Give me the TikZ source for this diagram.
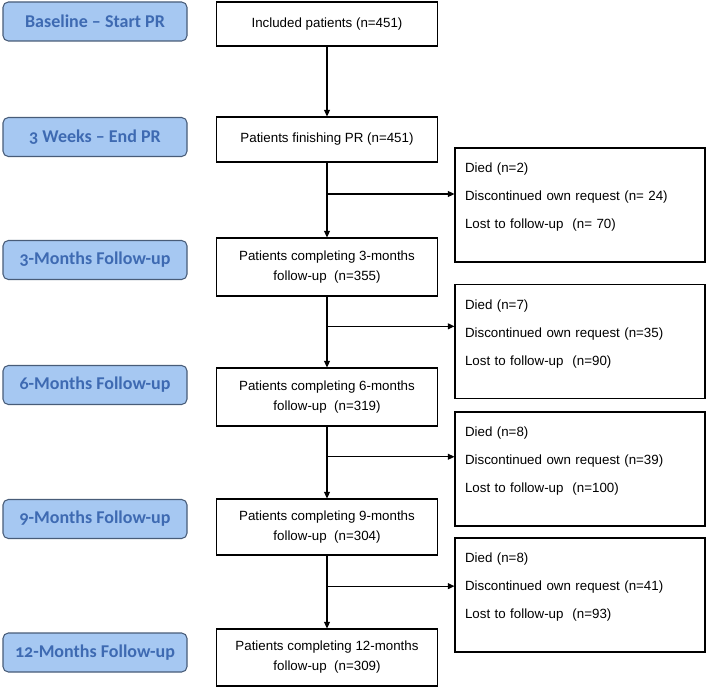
\documentclass[tikz,border=0pt]{standalone}
\usepackage{fontspec}
\setmainfont{Liberation Sans}
\newfontfamily\phasefont{Carlito}[Numbers=OldStyle]
\usetikzlibrary{arrows.meta,calc}
\definecolor{phasefill}{RGB}{166,200,242}
\definecolor{phaseline}{RGB}{72,92,120}
\definecolor{phasetext}{RGB}{62,106,178}
\begin{document}
\begin{tikzpicture}[x=0.75pt, y=-0.75pt, thick, >={Triangle[length=5pt,width=4.5pt]},
    main/.style = {draw, minimum width=165.75pt, align=center, font=\fontsize{10}{15}\selectfont},
    phase/.style = {draw=phaseline, fill=phasefill, rounded corners=4pt, minimum width=138pt, minimum height=29.25pt, text=phasetext, font=\phasefont\bfseries\fontsize{13.5}{16}\selectfont},
    side/.style = {draw, minimum width=187.5pt, minimum height=85.5pt, inner xsep=7.5pt, text width=172.5pt, align=left, font=\fontsize{10}{21}\selectfont}]
    \useasboundingbox (0,0) rectangle (709,688);
    % time points
    \node[phase] (p1) at (95,21.5) {Baseline – Start PR};
    \node[phase] (p2) at (95,137) {3 Weeks – End PR};
    \node[phase] (p3) at (95,260) {3-Months Follow-up};
    \node[phase] (p4) at (95,385) {6-Months Follow-up};
    \node[phase] (p5) at (95,519) {9-Months Follow-up};
    \node[phase] (p6) at (95,652.5) {12-Months Follow-up};
    % patients
    \node[main, minimum height=33pt] (1) at (327,24) {Included patients (n=451)};
    \node[main, minimum height=33.75pt] (2) at (327,139.5) {Patients finishing PR (n=451)};
    \node[main, minimum height=43.5pt] (3) at (327,267) {Patients completing 3-months\\follow-up~ (n=355)};
    \node[main, minimum height=43.5pt] (4) at (327,397) {Patients completing 6-months\\follow-up~ (n=319)};
    \node[main, minimum height=42pt] (5) at (327,527) {Patients completing 9-months\\follow-up~ (n=304)};
    \node[main, minimum height=42.75pt] (6) at (327,657.5) {Patients completing 12-months\\follow-up~ (n=309)};
    % drop outs
    \node[side] (r1) at (580,205) {Died (n=2)\\Discontinued own request (n= 24)\\Lost to follow-up~ (n= 70)\\[-7.5pt]\mbox{}};
    \node[side] (r2) at (580,341.5) {Died (n=7)\\Discontinued own request (n=35)\\Lost to follow-up~ (n=90)\\[-7.5pt]\mbox{}};
    \node[side] (r3) at (580,469) {Died (n=8)\\Discontinued own request (n=39)\\Lost to follow-up~ (n=100)\\[-7.5pt]\mbox{}};
    \node[side] (r4) at (580,595) {Died (n=8)\\Discontinued own request (n=41)\\Lost to follow-up~ (n=93)\\[-7.5pt]\mbox{}};
    \coordinate (b1) at ($(2.south)!0.42!(3.north)$);
    \coordinate (b2) at ($(3.south)!0.42!(4.north)$);
    \coordinate (b3) at ($(4.south)!0.42!(5.north)$);
    \coordinate (b4) at ($(5.south)!0.42!(6.north)$);
    \draw[->] (1) -- (2);
    \draw[->] (2) -- (3);
    \draw[->] (3) -- (4);
    \draw[->] (4) -- (5);
    \draw[->] (5) -- (6);
    \draw[->] (b1) -- (r1.west |- b1);
    \draw[->] (b2) -- (r2.west |- b2);
    \draw[->] (b3) -- (r3.west |- b3);
    \draw[->] (b4) -- (r4.west |- b4);
\end{tikzpicture}
\end{document}
